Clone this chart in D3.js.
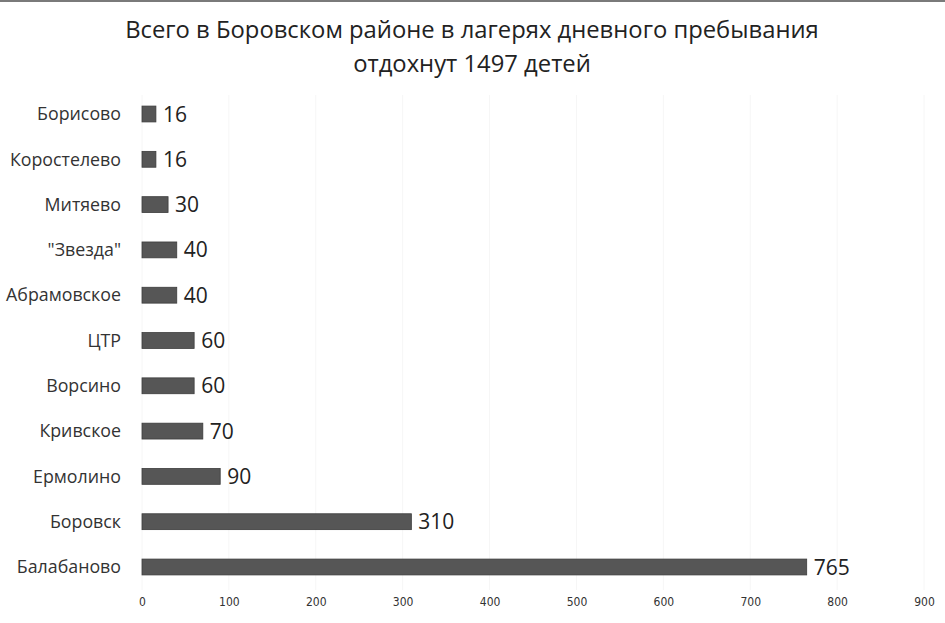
<!DOCTYPE html>
<html>
<head>
<meta charset="utf-8">
<script src="https://cdn.jsdelivr.net/npm/d3@7"></script>
<style>
  html, body { margin: 0; padding: 0; background: #fff; }
  #chart { width: 945px; height: 623px; }
</style>
</head>
<body>
<div id="chart"></div>
<script>
// data, top to bottom
const categories = ["Борисово", "Коростелево", "Митяево", "\"Звезда\"", "Абрамовское",
  "ЦТР", "Ворсино", "Кривское", "Ермолино", "Боровск", "Балабаново"];
const values = [16, 16, 30, 40, 40, 60, 60, 70, 90, 310, 765];
const xTicks = [0, 100, 200, 300, 400, 500, 600, 700, 800, 900];
const titleLines = ["Всего в Боровском районе в лагерях дневного пребывания", "отдохнут 1497 детей"];

const W = 945, H = 623;
const svg = d3.select("#chart").append("svg")
  .attr("width", W).attr("height", H)
  .attr("viewBox", `0 0 ${W} ${H}`);

// gray frame edge at top
svg.append("rect").attr("x", 0).attr("y", 0).attr("width", W).attr("height", 2).attr("fill", "#7a7a7a");

const x = d3.scaleLinear().domain([0, 900]).range([142, 924]);
const y = d3.scaleBand().domain(categories).range([91.35, 589.65])
  .paddingInner(0.65).paddingOuter(0.325);

// faint vertical gridlines
svg.append("g").selectAll("line").data(xTicks).join("line")
  .attr("x1", d => x(d)).attr("x2", d => x(d))
  .attr("y1", 95).attr("y2", 590)
  .attr("stroke", "#f6f6f6").attr("stroke-width", 1);

// title
svg.append("text")
  .attr("text-anchor", "middle")
  .style("font-family", "'Open Sans', sans-serif")
  .style("font-size", "23.8px")
  .style("fill", "#222")
  .selectAll("tspan").data(titleLines).join("tspan")
  .attr("x", 472).attr("y", (d, i) => 38 + i * 34)
  .text(d => d);

// bars
svg.append("g").selectAll("rect").data(values).join("rect")
  .attr("x", x(0))
  .attr("y", (d, i) => y(categories[i]))
  .attr("width", d => x(d) - x(0))
  .attr("height", y.bandwidth())
  .attr("fill", "#565656")
  .attr("stroke", "#3c3c3c")
  .attr("stroke-width", 0.8);

// category labels
svg.append("g").selectAll("text").data(categories).join("text")
  .attr("x", 121)
  .attr("y", d => y(d) + y.bandwidth() / 2)
  .attr("dy", "0.35em")
  .attr("text-anchor", "end")
  .style("font-family", "'Open Sans', sans-serif")
  .style("font-size", "17.8px")
  .style("fill", "#333")
  .text(d => d);

// value labels
svg.append("g").selectAll("text").data(values).join("text")
  .attr("x", d => x(d) + 7)
  .attr("y", (d, i) => y(categories[i]) + y.bandwidth() / 2)
  .attr("dy", "0.36em")
  .style("font-family", "'Open Sans', sans-serif")
  .style("font-size", "21px")
  .style("fill", "#222")
  .text(d => d);

// x axis tick labels (no axis line)
const axis = svg.append("g")
  .attr("transform", "translate(0,595)")
  .call(d3.axisBottom(x).tickValues(xTicks).tickSize(0).tickPadding(0));
axis.select(".domain").remove();
axis.selectAll("text")
  .attr("dy", "0.9em")
  .style("font-family", "'Liberation Sans Narrow', 'DejaVu Sans Condensed', sans-serif")
  .style("font-size", "12px")
  .style("fill", "#333");
</script>
</body>
</html>
